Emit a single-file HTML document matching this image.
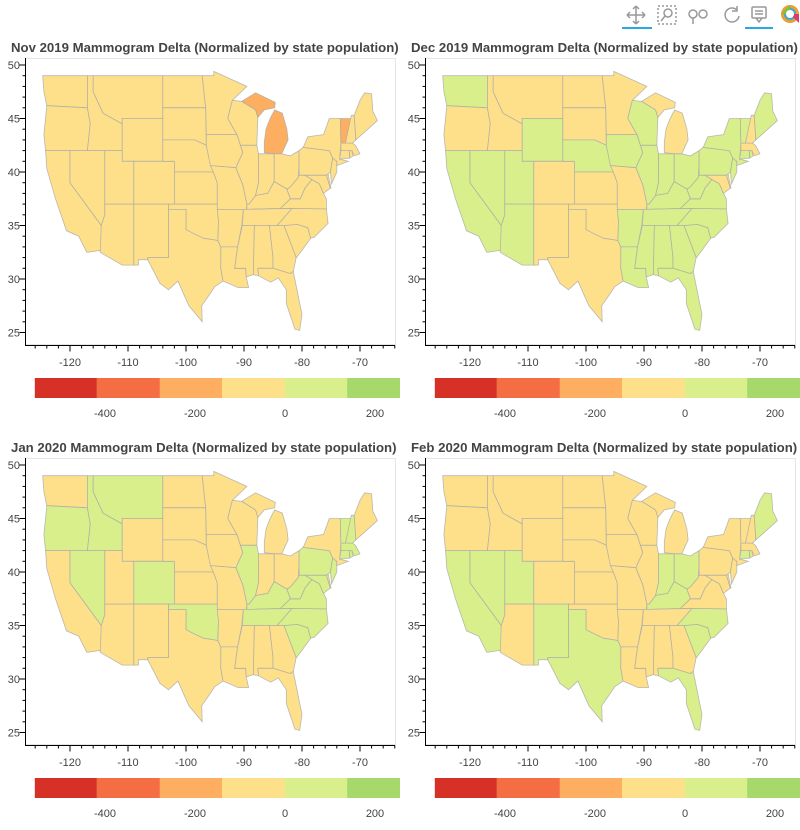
<!DOCTYPE html>
<html><head><meta charset="utf-8"><style>
body{margin:0;background:#fff;width:800px;height:830px;overflow:hidden;font-family:"Liberation Sans",sans-serif}
svg{display:block}
</style></head><body>
<svg id="root" width="800" height="830" xmlns="http://www.w3.org/2000/svg">
<g fill="none" stroke="#999" stroke-width="1.5">
 <g><path d="M636 6v18M627 15h18M636 6l-3 3M636 6l3 3M636 24l-3-3M636 24l3-3M627 15l3-3M627 15l3 3M645 15l-3-3M645 15l-3 3"/><line x1="622" y1="28" x2="652" y2="28" stroke="#26aae1" stroke-width="2"/></g>
 <g><rect x="658" y="6" width="18" height="18" stroke-dasharray="2,2"/><circle cx="668" cy="13" r="4"/><path d="M665 16l-4 5"/></g>
 <g><circle cx="693" cy="14" r="4"/><circle cx="703" cy="14" r="4"/><path d="M693 18v6"/></g>
 <g><path d="M737 10a7 7 0 1 0 2 6"/><path d="M737 6v5h-5"/></g>
 <g><rect x="752" y="7" width="14" height="11" rx="1"/><path d="M756 18l3 4 3-4M755 11h8M755 14h8"/><line x1="745" y1="28" x2="773" y2="28" stroke="#26aae1" stroke-width="2"/></g>
 <g stroke="none"><circle cx="790" cy="14" r="9" fill="#e8a033"/><circle cx="790" cy="14" r="6" fill="#3aa7d9"/><circle cx="790" cy="14" r="3" fill="#fff"/><path d="M781 14h9v-9" fill="#7dc142"/><path d="M790 14h9v9" fill="#d93b72"/><circle cx="790" cy="14" r="4" fill="#fff"/></g>
</g>
</svg>
<script>
// ---- data ----
const stateNames=["WA","OR","CA","ID","NV","MT","WY","UT","AZ","CO","NM","ND","SD","NE","KS","OK","TX","MN","IA","MO","AR","LA","WI","IL","MI","MIU","IN","OH","KY","TN","MS","AL","GA","FL","SC","NC","VA","WV","MD","DE","PA","NJ","NY","CT","RI","MA","VT","NH","ME"];
const monthTitles=["Nov 2019","Dec 2019","Jan 2020","Feb 2020"];
const novValues=[-60,-60,-60,-60,-60,-60,-60,-60,-60,-60,-60,-60,-60,-60,-60,-60,-60,-60,-60,-60,-60,-60,-60,-60,-200,-200,-60,-60,-60,-60,-60,-60,-60,-60,-60,-60,-60,-60,-60,-60,-60,-60,-60,-60,-60,-60,-200,-60,-60];
const decValues=[60,-60,60,-60,60,-60,60,60,60,-60,-60,-60,-60,60,-60,-60,-60,-60,60,-60,60,60,60,60,-60,-60,60,60,60,60,60,60,60,60,60,60,60,60,-120,-60,60,60,60,60,60,-60,60,-60,60];
const janValues=[-60,60,-60,60,60,60,-60,-60,-60,60,-60,-60,-60,-60,-60,60,-60,-60,-60,-60,-60,-60,-60,60,-60,-60,-60,-60,60,60,-60,-60,-60,-60,60,60,60,60,60,-60,60,60,-60,60,60,60,60,60,-60];
const febValues=[-60,-60,60,-60,60,-60,-60,60,-60,-60,60,-60,-60,-60,-60,-60,60,-60,-60,-60,-60,-60,-60,-60,-60,-60,60,60,60,-60,-60,-60,-60,60,60,60,-60,-60,-60,-60,-60,-60,-60,60,60,-60,-60,-60,60];
const binEdges=[-556,-418,-278,-140,0,138,276];
const binColors=["#d73027","#f46d43","#fdae61","#fee08b","#d9ef8b","#a6d96a"];
const xTicks=[-120,-110,-100,-90,-80,-70];
const yTicks=[25,30,35,40,45,50];
const cbTicks=[-400,-200,0,200];
// ---- geometry (lon,lat outlines) ----
const shapes={
WA:[[-124.7,49],[-117,49],[-117,46],[-124,46.2],[-124.5,47.5]],
OR:[[-124,46.2],[-117,46],[-116.5,44.5],[-117,42],[-124.2,42],[-124.5,43.5]],
CA:[[-124.2,42],[-120,42],[-120,39],[-114.6,35],[-114.5,32.7],[-117.1,32.5],[-118.5,34],[-120.6,34.5],[-122.5,37.5],[-124,40.3]],
ID:[[-117,49],[-116,49],[-116,47.5],[-114.3,45.5],[-111,44.5],[-111,42],[-117,42],[-116.5,44.5],[-117,46]],
NV:[[-120,42],[-114,42],[-114,36],[-114.6,35],[-120,39]],
MT:[[-116,49],[-104,49],[-104,45],[-111,45],[-111,44.5],[-114.3,45.5],[-116,47.5]],
WY:[[-111,45],[-104,45],[-104,41],[-111,41]],
UT:[[-114,42],[-111,42],[-111,41],[-109,41],[-109,37],[-114,37]],
AZ:[[-114,37],[-109,37],[-109,31.3],[-111,31.3],[-114.8,32.5],[-114.6,35],[-114,36]],
CO:[[-109,41],[-102,41],[-102,37],[-109,37]],
NM:[[-109,37],[-103,37],[-103,32],[-106.6,32],[-106.6,31.8],[-108.2,31.8],[-108.2,31.3],[-109,31.3]],
ND:[[-104,49],[-97.2,49],[-96.6,46],[-104,46]],
SD:[[-104,46],[-96.6,46],[-96.5,42.5],[-98.5,43],[-104,43]],
NE:[[-104,43],[-98.5,43],[-96.5,42.5],[-95.3,40],[-102,40],[-102,41],[-104,41]],
KS:[[-102,40],[-95.3,40],[-94.6,39],[-94.6,37],[-102,37]],
OK:[[-103,37],[-94.6,37],[-94.4,35.4],[-94.5,33.6],[-97,33.8],[-100,34.6],[-100,36.5],[-103,36.5]],
TX:[[-103,36.5],[-100,36.5],[-100,34.6],[-97,33.8],[-94.5,33.6],[-94,33],[-94,31],[-93.6,29.8],[-95,29.3],[-97.3,27.5],[-97.2,26],[-99.5,27.5],[-101.4,29.8],[-103,29],[-104.5,29.6],[-106.6,31.8],[-106.6,32],[-103,32]],
MN:[[-97.2,49],[-95.2,49],[-95.2,49.4],[-89.5,48],[-92,46.7],[-92.3,46.1],[-92.8,45],[-91.2,43.5],[-96.5,43.5],[-96.6,46]],
IA:[[-96.5,43.5],[-91.2,43.5],[-90.6,42.5],[-90.2,41.8],[-91.4,40.4],[-95.8,40.6],[-96.5,42.5]],
MO:[[-95.8,40.6],[-91.4,40.4],[-90.2,38.8],[-89.5,37],[-89.7,36],[-90.4,36],[-90.1,36.5],[-94.6,36.5],[-94.6,39],[-95.3,40]],
AR:[[-94.6,36.5],[-90.1,36.5],[-90.4,35],[-91.1,33],[-94,33],[-94.5,33.6],[-94.4,35.4]],
LA:[[-94,33],[-91.1,33],[-91.6,31],[-89.7,31],[-89.6,30.2],[-89.2,29.2],[-91,29.2],[-93.6,29.8],[-94,31]],
WI:[[-92.8,45],[-92.3,46.1],[-92,46.7],[-90.4,46.6],[-88,45.8],[-87.6,45.1],[-87.8,42.5],[-90.6,42.5],[-91.2,43.5]],
IL:[[-90.6,42.5],[-87.8,42.5],[-87.5,41.7],[-87.5,39],[-88,37.8],[-89.1,37],[-89.5,37],[-90.2,38.8],[-91.4,40.4],[-90.2,41.8]],
MI:[[-86.5,41.8],[-84.8,41.7],[-83.5,41.7],[-82.4,43],[-82.6,44],[-83.4,45.5],[-84.7,45.8],[-85.5,45],[-86.2,44],[-86.5,42.8]],
MIU:[[-90.4,46.6],[-88,45.8],[-87.6,45.1],[-86.5,45.8],[-84.7,46],[-84.6,46.5],[-88,47.4]],
IN:[[-87.5,41.7],[-84.8,41.7],[-84.8,39.1],[-85.9,38],[-88,37.8],[-87.5,39]],
OH:[[-84.8,41.7],[-83.5,41.7],[-82,41.5],[-80.5,42],[-80.5,40.6],[-80.6,39.5],[-82,38.6],[-82.6,38.4],[-84.8,39.1]],
KY:[[-89.5,37],[-89.1,37],[-88,37.8],[-85.9,38],[-84.8,39.1],[-82.6,38.4],[-82,37.5],[-83.7,36.6],[-89.5,36.5]],
TN:[[-90.1,36.5],[-81.7,36.6],[-84.3,35],[-90.3,35]],
MS:[[-91.1,33],[-90.3,35],[-88.2,35],[-88.4,30.4],[-89.6,30.2],[-89.7,31],[-91.6,31]],
AL:[[-88.2,35],[-85.6,35],[-85,32],[-85,31],[-87.6,31],[-87.5,30.3],[-88.4,30.4]],
GA:[[-85.6,35],[-83.1,35],[-81,32],[-81.5,30.7],[-82,30.5],[-85,31],[-85,32]],
FL:[[-87.6,31],[-85,31],[-82,30.5],[-81.5,30.7],[-80.5,28],[-80,26.7],[-80.4,25.2],[-81.2,25.3],[-82.7,27.7],[-82.7,29],[-84.1,30.1],[-85.4,29.7],[-87.5,30.3]],
SC:[[-83.1,35],[-80.8,35.1],[-79,34.8],[-78.5,33.8],[-80.8,32.1],[-81,32]],
NC:[[-84.3,35],[-81.7,36.6],[-75.8,36.55],[-75.5,35.2],[-77.9,33.9],[-78.5,33.8],[-79,34.8],[-80.8,35.1],[-83.1,35]],
VA:[[-83.7,36.6],[-82,37.5],[-80.3,37.5],[-79.5,38.5],[-78.3,39.3],[-77,38.9],[-76.3,38],[-75.8,37.5],[-75.8,36.55],[-81.7,36.6]],
WV:[[-82.6,38.4],[-82,38.6],[-80.6,39.5],[-80.5,40.6],[-80.5,39.7],[-79.5,39.7],[-78.3,39.3],[-79.5,38.5],[-80.3,37.5],[-82,37.5]],
MD:[[-79.5,39.7],[-75.8,39.7],[-75.1,38.5],[-76.3,38],[-77,38.9],[-78.3,39.3]],
DE:[[-75.8,39.7],[-75.5,39.8],[-75,38.5],[-75.1,38.5]],
PA:[[-80.5,42],[-79.8,42.3],[-75.3,42],[-74.7,41.3],[-75.1,40],[-75.8,39.7],[-80.5,39.7]],
NJ:[[-75.1,40],[-74.7,41.3],[-74,41],[-74,40],[-74.9,38.9]],
NY:[[-79.8,42.3],[-79,43.3],[-76.3,43.5],[-75.3,45],[-73.4,45],[-73.3,42.7],[-73.5,41.2],[-72,41],[-74,40.6],[-74,41],[-74.7,41.3],[-75.3,42]],
CT:[[-73.5,41.2],[-73.3,42],[-71.8,42],[-71.8,41.3]],
RI:[[-71.8,42],[-71.4,42],[-71.2,41.5],[-71.8,41.3]],
MA:[[-73.3,42.7],[-73.3,42],[-71.8,42],[-71.4,42],[-71,41.5],[-70,41.7],[-70.8,42.5],[-71.3,42.7]],
VT:[[-73.4,45],[-71.5,45],[-72.5,42.7],[-73.3,42.7]],
NH:[[-71.5,45.3],[-71,45.3],[-70.7,43],[-71.3,42.7],[-72.5,42.7]],
ME:[[-71,45.3],[-70,46.7],[-69.2,47.4],[-68,47.3],[-67.8,45.7],[-67,44.8],[-70.7,43]]
};
const allValues=[novValues,decValues,janValues,febValues];
const NS="http://www.w3.org/2000/svg";
const root=document.getElementById('root');
function mk(tag,attrs,parent){const e=document.createElementNS(NS,tag);for(const k in attrs)e.setAttribute(k,attrs[k]);parent.appendChild(e);return e;}
function colorFor(v){for(let i=0;i<binColors.length;i++){if(v<binEdges[i+1])return binColors[i];}return binColors[binColors.length-1];}
const offsets=[[0,0],[400,0],[0,400],[400,400]];
allValues.forEach((vals,p)=>{
  const ox=offsets[p][0],oy=offsets[p][1];
  const xs=lon=>ox+70+(lon+120)*5.8;
  const ys=lat=>oy+65+(50-lat)*10.7;
  const g=mk('g',{},root);
  
  
  const frame=mk('rect',{x:ox+25.5,y:oy+58.5,width:370,height:286,fill:'none',stroke:'#e5e5e5'},g);
  
  
  const tc=mk('clipPath',{id:'tc'+p},g);mk('rect',{x:ox,y:oy+36,width:400,height:22},tc);
  const t=mk('text',{x:ox+11,y:oy+52,'font-size':13.2,'font-weight':'bold',fill:'#444','clip-path':'url(#tc'+p+')'},g);
  t.textContent=monthTitles[p]+' Mammogram Delta (Normalized by state population)';
  
  
  const mg=mk('g',{},g);
  
  
  stateNames.forEach((s,i)=>{
    const pts=shapes[s].map(c=>xs(c[0]).toFixed(1)+','+ys(c[1]).toFixed(1)).join(' ');
    const poly=mk('polygon',{points:pts,fill:colorFor(vals[i]),stroke:'#aaa','stroke-width':0.8,'stroke-opacity':0.8},mg);
    
    
  });
  const ay=mk('g',{stroke:'#000','stroke-width':1},g);
  
  
  mk('line',{x1:ox+25.5,y1:oy+58,x2:ox+25.5,y2:oy+345},ay);
  for(let lat=25;lat<=50;lat++){const y=ys(lat);const maj=yTicks.includes(lat);mk('line',{x1:ox+25.5-(maj?6:3),y1:y,x2:ox+25.5,y2:y},ay);}
  yTicks.forEach(v=>{const tx=mk('text',{x:ox+20,y:ys(v)+4,'font-size':11,fill:'#444','text-anchor':'end',stroke:'none'},ay);tx.textContent=v;
    
    });
  const ax=mk('g',{stroke:'#000','stroke-width':1},g);
  
  
  mk('line',{x1:ox+25,y1:oy+345.5,x2:ox+395,y2:oy+345.5},ax);
  for(let lon=-126;lon<=-62;lon+=2){const x=xs(lon);if(x<ox+26||x>ox+395)continue;const maj=xTicks.includes(lon);mk('line',{x1:x,y1:oy+345.5,x2:x,y2:oy+345.5+(maj?6:3)},ax);}
  xTicks.forEach(v=>{const tx=mk('text',{x:xs(v),y:oy+366,'font-size':11,fill:'#444','text-anchor':'middle',stroke:'none'},ax);tx.textContent=v;
    
    });
  const cb=mk('g',{},g);
  
  
  const cx=v=>ox+285+v*90/200;
  binColors.forEach((c,i)=>{
    const x0=cx(binEdges[i]),x1=Math.min(cx(binEdges[i+1]),ox+400);
    const r=mk('rect',{x:x0,y:oy+378,width:x1-x0,height:20,fill:c},cb);
    
    
  });
  cbTicks.forEach(v=>{const tx=mk('text',{x:cx(v),y:oy+417,'font-size':11,fill:'#444','text-anchor':'middle'},cb);tx.textContent=v;
    
    });
});
</script>
</body></html>
